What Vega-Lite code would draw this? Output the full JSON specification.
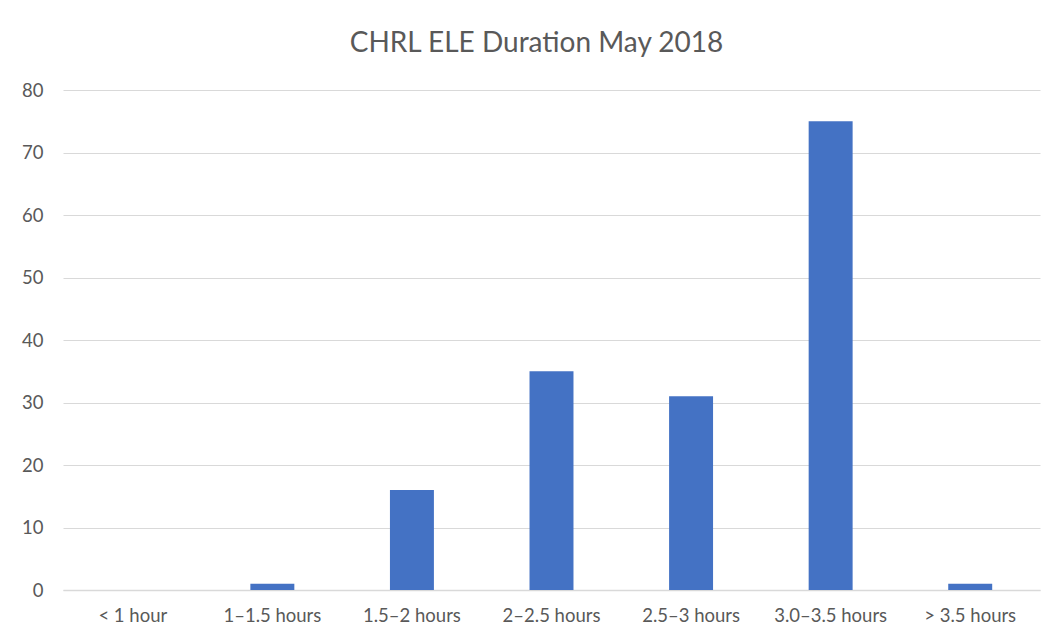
{
  "$schema": "https://vega.github.io/schema/vega-lite/v6.json",
  "width": 977,
  "height": 500,
  "autosize": {"type": "none"},
  "padding": {"left": 63, "top": 90, "right": 14, "bottom": 51},
  "background": "white",
  "title": {
    "text": "CHRL ELE Duration May 2018",
    "font": "Lato",
    "fontSize": 28,
    "fontWeight": "normal",
    "color": "#595959",
    "offset": 23,
    "dx": -15
  },
  "config": {
    "view": {"stroke": null},
    "axis": {"labelFont": "Lato", "labelFontSize": 18.5, "labelColor": "#595959"}
  },
  "data": {
    "values": [
      {"duration": "< 1 hour", "count": 0},
      {"duration": "1–1.5 hours", "count": 1},
      {"duration": "1.5–2 hours", "count": 16},
      {"duration": "2–2.5 hours", "count": 35},
      {"duration": "2.5–3 hours", "count": 31},
      {"duration": "3.0–3.5 hours", "count": 75},
      {"duration": "> 3.5 hours", "count": 1}
    ]
  },
  "mark": {"type": "bar", "color": "#4472c4"},
  "encoding": {
    "x": {
      "field": "duration",
      "type": "nominal",
      "sort": null,
      "title": null,
      "scale": {"paddingInner": 0.685, "paddingOuter": 0.3425},
      "axis": {"labelAngle": 0, "ticks": false, "domainColor": "#d9d9d9", "domainWidth": 1.5, "labelPadding": 16}
    },
    "y": {
      "field": "count",
      "type": "quantitative",
      "title": null,
      "scale": {"domain": [0, 80]},
      "axis": {"values": [0,10,20,30,40,50,60,70,80], "ticks": false, "domain": false, "gridColor": "#d9d9d9", "gridWidth": 1, "labelPadding": 20}
    }
  }
}
